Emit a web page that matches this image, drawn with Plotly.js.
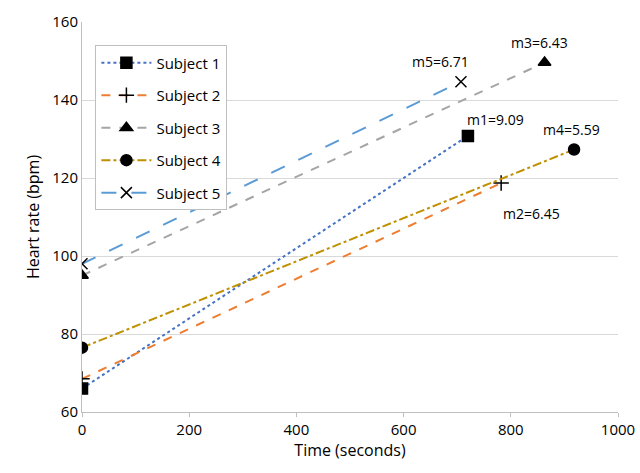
<!DOCTYPE html>
<html>
<head>
<script src="https://cdn.plot.ly/plotly-3.0.1.min.js"></script>
<style>body{margin:0}#chart{width:640px;height:473px}</style>
</head>
<body>
<div id="chart"></div>
<script>
const subjects = ['Subject 1', 'Subject 2', 'Subject 3', 'Subject 4', 'Subject 5'];
const timeStart = [0, 0, 0, 0, 0];
const timeEnd = [720, 782, 863, 918, 707];
const hrStart = [66, 68.5, 95, 76.5, 98];
const hrEnd = [130.8, 118.7, 149.6, 127.3, 144.7];
const slopeLabels = ['m1=9.09', 'm2=6.45', 'm3=6.43', 'm4=5.59', 'm5=6.71'];

const colors = ['#4472C4', '#ED7D31', '#A5A5A5', '#BF9000', '#5B9BD5'];
const dashes = ['dot', 'dash', 'dash', 'dashdot', 'longdash'];
const symbols = ['square', 'cross-thin', 'triangle-up', 'circle', 'x-thin'];
const labelShift = [[28, 16], [30, -30], [-5, 20], [-3, 20], [-20, 20]];

const traces = subjects.map((name, i) => ({
  x: [timeStart[i], timeEnd[i]],
  y: [hrStart[i], hrEnd[i]],
  name: name,
  legendgroup: 'g' + i,
  mode: 'lines+markers',
  type: 'scatter',
  line: {color: colors[i], dash: dashes[i], width: 2},
  marker: {symbol: symbols[i], size: 11, color: '#000', line: {color: '#000', width: 1.5}}
}));

const annotations = subjects.map((s, i) => ({
  x: timeEnd[i], y: hrEnd[i], text: slopeLabels[i], showarrow: false,
  xshift: labelShift[i][0], yshift: labelShift[i][1],
  font: {size: 14, color: '#000'}
}));

Plotly.newPlot('chart', traces, {
  width: 640, height: 473,
  font: {family: 'Open Sans, sans-serif', size: 15, color: '#000'},
  margin: {l: 82, r: 22, t: 22, b: 61},
  xaxis: {
    range: [0, 1000], dtick: 200, showgrid: false, zeroline: false,
    showline: true, linecolor: '#bfbfbf', ticks: 'outside', ticklen: 4, tickcolor: '#bfbfbf',
    title: {text: 'Time (seconds)', standoff: 6, font: {size: 16}}
  },
  yaxis: {
    range: [60, 160], dtick: 20, gridcolor: '#d9d9d9', zeroline: false,
    showline: true, linecolor: '#bfbfbf',
    title: {text: 'Heart rate (bpm)', standoff: 8, font: {size: 16}}
  },
  showlegend: true,
  legend: {x: 0.025, y: 0.94, xanchor: 'left', yanchor: 'top', bordercolor: '#bfbfbf', borderwidth: 1,
    font: {size: 15}, tracegroupgap: 10, itemwidth: 50},
  annotations: annotations,
  plot_bgcolor: '#fff', paper_bgcolor: '#fff'
}, {displayModeBar: false});
</script>
</body>
</html>
